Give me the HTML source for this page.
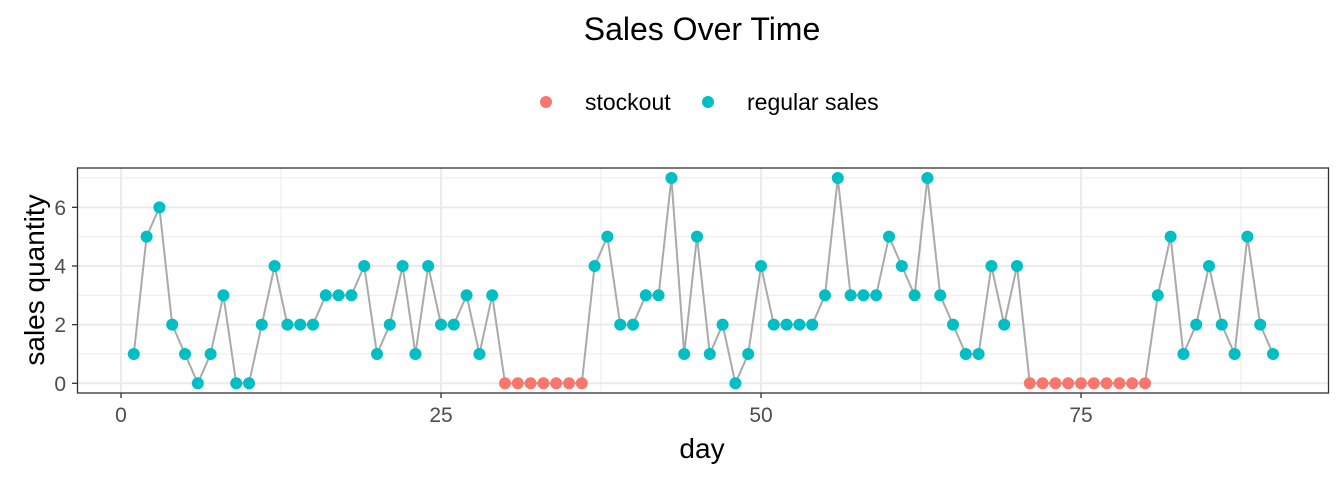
<!DOCTYPE html><html><head><style>body{margin:0;background:#fff}svg{display:block}text{font-family:"Liberation Sans",sans-serif}</style></head><body>
<svg id="s" width="1344" height="480" xmlns="http://www.w3.org/2000/svg">
<rect width="1344" height="480" fill="#fff"/>
<text x="702" y="40" font-size="32" text-anchor="middle" fill="#000">Sales Over Time</text>
<circle cx="546" cy="102" r="6" fill="#F8766D"/><text x="585" y="110" font-size="23">stockout</text>
<circle cx="708" cy="102" r="6" fill="#00BFC4"/><text x="747" y="110" font-size="23">regular sales</text>
<g id="g"></g>
<rect x="77.5" y="168" width="1251" height="225" fill="none" stroke="#333" stroke-width="1.3"/>
<text x="702" y="458" font-size="28" text-anchor="middle">day</text>
<text transform="translate(44,280) rotate(-90)" font-size="28" text-anchor="middle">sales quantity</text>
</svg>
<script>
var d=[1,5,6,2,1,0,1,3,0,0,2,4,2,2,2,3,3,3,4,1,2,4,1,4,2,2,3,1,3,0,0,0,0,0,0,0,4,5,2,2,3,3,7,1,5,1,2,0,1,4,2,2,2,2,3,7,3,3,3,5,4,3,7,3,2,1,1,4,2,4,0,0,0,0,0,0,0,0,0,0,3,5,1,2,4,2,1,5,2,1];
function X(t){return 121+12.8*t}function Y(v){return 383.3-29.33*v}
var h='';
for(var v=0;v<=7;v++){h+='<line x1="78" x2="1328" y1="'+Y(v)+'" y2="'+Y(v)+'" stroke="#ebebeb" stroke-width="'+(v%2?1:2)+'"/>';}
for(var t=0;t<=100;t+=12.5){var x=X(t);if(x>1328)break;h+='<line y1="168" y2="393" x1="'+x+'" x2="'+x+'" stroke="#ebebeb" stroke-width="'+(t%25?1:2)+'"/>';}
for(var v=0;v<=6;v+=2){h+='<line x1="72" x2="77" y1="'+Y(v)+'" y2="'+Y(v)+'" stroke="#333" stroke-width="1.3"/><text x="66" y="'+(Y(v)+7.5)+'" font-size="21" fill="#4d4d4d" text-anchor="end">'+v+'</text>';}
for(var t=0;t<=75;t+=25){h+='<line y1="393" y2="398" x1="'+X(t)+'" x2="'+X(t)+'" stroke="#333" stroke-width="1.3"/><text x="'+X(t)+'" y="422" font-size="21" fill="#4d4d4d" text-anchor="middle">'+t+'</text>';}
var p='';d.forEach(function(v,i){p+=X(i+1)+','+Y(v)+' '});
h+='<polyline points="'+p+'" fill="none" stroke="#aaa" stroke-width="2"/>';
d.forEach(function(v,i){var so=(i+1>=30&&i+1<=36)||(i+1>=71&&i+1<=80);h+='<circle cx="'+X(i+1)+'" cy="'+Y(v)+'" r="6" fill="'+(so?'#F8766D':'#00BFC4')+'"/>';});
document.getElementById('g').innerHTML=h;
</script>
</body></html>
